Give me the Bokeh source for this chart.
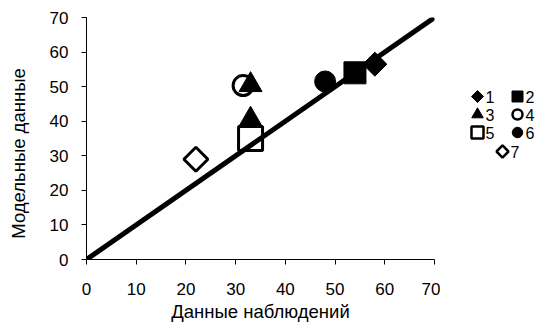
import numpy as np
from bokeh.plotting import figure
from bokeh.layouts import row
from bokeh.models import Range1d
from bokeh.core.properties import value
from bokeh.embed import file_html
from bokeh.resources import INLINE

# Observed vs. modelled values, one list pair per group
group_names = ["1", "2", "3", "4", "5", "6", "7"]
obs_1, mod_1 = [58], [56.5]
obs_2, mod_2 = [54], [54]
obs_3, mod_3 = [33, 33], [50.5, 40.5]
obs_4, mod_4 = [31.5], [50.3]
obs_5, mod_5 = [33], [35]
obs_6, mod_6 = [48], [51.5]
obs_7, mod_7 = [22], [29]

# 1:1 reference line
ref_x = [0, 70]
ref_y = [0, 70]

x_ticks = [0, 10, 20, 30, 40, 50, 60, 70]
y_ticks = [0, 10, 20, 30, 40, 50, 60, 70]

x_title = "Данные наблюдений"
y_title = "Модельные данные"

FONT = "Liberation Sans"
D = np.pi / 4

# page-pixel rows of the plotting frame (side panels share them)
FRAME_TOP, FRAME_BOTTOM = 17, 259

# marker styles per group: (marker, size, angle, filled)
styles = {
    "1": ("square", 17, D, True),
    "2": ("square", 22, 0, True),
    "3": ("triangle", 23, 0, True),
    "4": ("circle", 20, 0, False),
    "5": ("square", 24, 0, False),
    "6": ("circle", 21, 0, True),
    "7": ("square", 17, D, False),
}
series = {
    "1": (obs_1, mod_1), "2": (obs_2, mod_2), "3": (obs_3, mod_3),
    "4": (obs_4, mod_4), "5": (obs_5, mod_5), "6": (obs_6, mod_6),
    "7": (obs_7, mod_7),
}


def blank_panel(width, x0):
    f = figure(width=width, height=326, x_range=Range1d(x0, x0 + width),
               y_range=Range1d(FRAME_BOTTOM, FRAME_TOP), output_backend="svg",
               toolbar_location=None, min_border=0, min_border_left=0,
               min_border_right=0, min_border_top=FRAME_TOP,
               min_border_bottom=326 - FRAME_BOTTOM)
    f.axis.visible = False
    f.grid.visible = False
    f.outline_line_color = None
    return f


# Y-axis title panel on the left
title_panel = blank_panel(30, 0)
title_panel.text([18], [153], text=[y_title], angle=np.pi / 2, text_font=value(FONT),
                 text_font_size="18.5px", text_align="center", text_baseline="middle",
                 text_color="black")

p = figure(width=410, height=326, x_range=Range1d(0, 70), y_range=Range1d(0, 70),
           output_backend="svg", toolbar_location=None,
           min_border_left=56, min_border_right=6, min_border_top=FRAME_TOP,
           min_border_bottom=326 - FRAME_BOTTOM)
p.outline_line_color = None
p.xgrid.visible = False
p.ygrid.visible = False

for ax in (p.xaxis[0], p.yaxis[0]):
    ax.axis_line_color = "black"
    ax.axis_line_width = 1
    ax.major_tick_line_color = "black"
    ax.major_tick_out = 5
    ax.major_tick_in = 0
    ax.minor_tick_line_color = None
    ax.major_label_text_font = FONT
    ax.major_label_text_font_size = "17px"
    ax.major_label_text_color = "black"
    ax.axis_label_text_font = FONT
    ax.axis_label_text_font_size = "18.5px"
    ax.axis_label_text_font_style = "normal"
    ax.axis_label_text_color = "black"

p.xaxis.ticker = x_ticks
p.yaxis.ticker = y_ticks
p.xaxis.axis_label = x_title
p.xaxis.major_label_standoff = 18
p.xaxis.axis_label_standoff = 3
p.yaxis.major_label_standoff = 13

p.line(ref_x, ref_y, line_color="black", line_width=5)

for name in group_names:
    xs, ys = series[name]
    marker, size, ang, filled = styles[name]
    p.scatter(xs, ys, marker=marker, size=size, angle=ang,
              fill_color="black" if filled else None,
              line_color="black", line_width=1 if filled else 3)

# Legend panel drawn in page pixel coordinates
leg = blank_panel(101, 440)
leg_x = [477, 517, 477, 517, 477, 517, 502]
leg_y = [96, 96, 114, 114, 132, 132, 151]
for i, name in enumerate(group_names):
    marker, size, ang, filled = styles[name]
    s = size * 0.5
    leg.scatter([leg_x[i]], [leg_y[i]], marker=marker, size=s, angle=ang,
                fill_color="black" if filled else None,
                line_color="black", line_width=1 if filled else 2.5)
    leg.text([leg_x[i] + 8], [leg_y[i]], text=[name], text_font=value(FONT),
             text_font_size="16px", text_baseline="middle", text_align="left",
             text_color="black")

layout = row(title_panel, p, leg, spacing=0)
open("out.html", "w").write(file_html(layout, INLINE))
